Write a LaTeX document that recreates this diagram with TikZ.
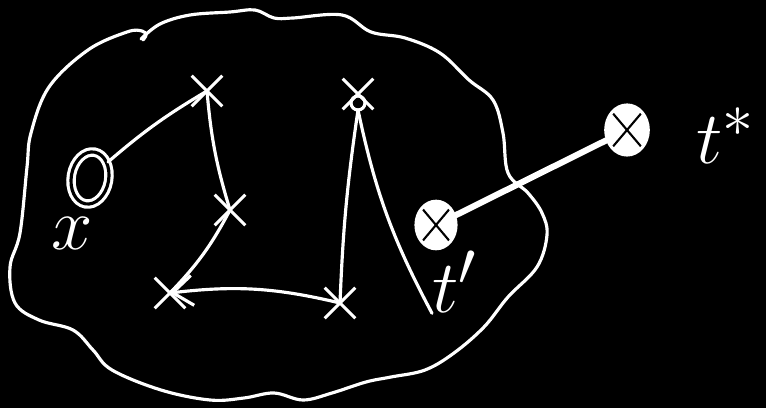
\documentclass[tikz,border=0pt]{standalone}
\usepackage{amsmath,amssymb}
\usepackage{tikz}
\usetikzlibrary{arrows.meta,positioning,shapes.geometric,shapes.misc}

\begin{document}
\begin{tikzpicture}[
  x=0.02cm, y=-0.02cm,
  chalk/.style={draw=white, line width=1.8pt, line cap=round, line join=round},
  crossmark/.style={cross out, draw=white, line width=1.8pt, minimum size=5.5mm, inner sep=0pt},
  ringdot/.style={ellipse, draw=white, line width=1.8pt, double=black, double distance=1.8pt,
    minimum width=7.5mm, minimum height=10.5mm, inner sep=0pt, rotate=-10},
  hatchdot/.style={ellipse, draw=white, line width=1.8pt, fill=white,
    minimum width=8mm, minimum height=9.5mm, inner sep=0pt,
    path picture={\draw[black, line width=1.2pt] (path picture bounding box.north east) -- (path picture bounding box.south west)
      (path picture bounding box.north west) -- (path picture bounding box.south east);}},
  chalktext/.style={text=white, inner sep=0pt, font=\Huge, scale=1.7},
  >={Straight Barb[length=4mm, width=6mm]}
]
\fill[black] (0,0) rectangle (766,408);

% the set
\draw[chalk] plot[smooth, tension=0.6] coordinates {
  (141,39) (160,24) (190,15) (230,12) (255,10) (274,18) (293,18) (342,15) (371,32)
  (405,38) (440,53) (469,80) (493,100) (503,133) (508,173) (528,193) (542,213)
  (547,235) (537,267) (508,297) (484,327) (454,353) (425,370) (391,377) (366,382)
  (332,393) (303,400) (274,393) (244,398) (210,400) (161,390) (112,370) (93,350)
  (73,330) (39,320) (15,303) (10,267) (20,233) (27,167) (31,133) (49,87) (88,50)
  (127,32) (142,31) (146,35) (143,40)};

% points
\node[ringdot]  (x)  at (90,178)  {};
\node[hatchdot] (t1) at (436,225) {};
\node[hatchdot, minimum width=8.5mm, minimum height=10mm] (t2) at (627,130) {};

\node[crossmark] (a) at (207,91)  {};
\node[crossmark] (b) at (230,210) {};
\node[crossmark] (c) at (170,293) {};
\node[crossmark] (d) at (340,303) {};
\node[crossmark] (e) at (358,94)  {};
\draw[chalk] (e.center) ++(0,9) circle (7);

% labels
\node[chalktext] (xlab)  at (72,234)  {$x$};
\node[chalktext] (t1lab) at (455,282) {$t'$};
\node[chalktext] (t2lab) at (726,136) {$t^{*}$};

% edges
\draw[chalk] (x) to[bend left=5] (a.center);
\draw[chalk] (a.center) to[bend right=6] (b.center);
\draw[chalk] (b.center) to[bend left=8] (c.center);
\draw[chalk, ->] (d.center) to[bend right=10] (c.center);
\draw[chalk] (e.center) ++(0,16) to[bend right=3] (d.center);
\draw[chalk] (e.center) ++(0,16) to[bend right=8] (t1lab.south west);
\draw[draw=white, line width=3.5pt, line cap=round] (t1) -- (t2);
\end{tikzpicture}
\end{document}
